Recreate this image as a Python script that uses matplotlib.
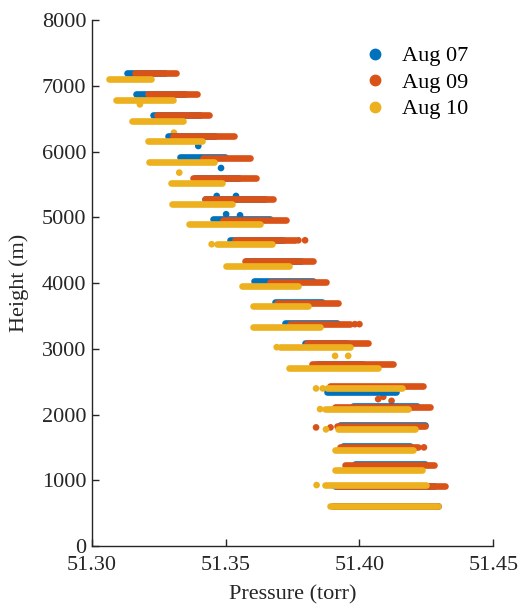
import matplotlib
matplotlib.use('Agg')
import matplotlib.pyplot as plt
from matplotlib.lines import Line2D

plt.rcParams['font.family'] = ['Liberation Serif', 'DejaVu Serif']

labels = ['Aug 07', 'Aug 09', 'Aug 10']
colors = ['#0072BD', '#D95319', '#EDB120']

# each series: one horizontal run of readings per height level (lo..hi torr)
h07 = [7195, 6875, 6555, 6235, 5910, 5600, 5280, 4970, 4660, 4340, 4025,
       3705, 3385, 3090, 2770, 2345, 2130, 1840, 1515, 1240, 915, 615]
lo07 = [51.3131, 51.3165, 51.3230, 51.3285, 51.3330, 51.3386, 51.3423, 51.3453,
        51.3516, 51.3575, 51.3607, 51.3684, 51.3722, 51.3797, 51.3840, 51.3878,
        51.3976, 51.3927, 51.3940, 51.3983, 51.3910, 51.3902]
hi07 = [51.3274, 51.3348, 51.3404, 51.3460, 51.3498, 51.3550, 51.3647, 51.3666,
        51.3715, 51.3780, 51.3827, 51.3860, 51.3916, 51.3952, 51.4013, 51.4135,
        51.4215, 51.4245, 51.4190, 51.4245, 51.4280, 51.4294]
xp07 = [51.3398, 51.3483, 51.3467, 51.3539, 51.3502, 51.3554]
yp07 = [6084, 5749, 5324, 5324, 5046, 5030]

h09 = [7190, 6870, 6550, 6230, 5905, 5597, 5274, 4962, 4650, 4331, 4017,
       3698, 3374, 3081, 2761, 2432, 2117, 1827, 1509, 1228, 912, 608]
lo09 = [51.3162, 51.3211, 51.3243, 51.3305, 51.3417, 51.3379, 51.3423, 51.3491,
        51.3535, 51.3572, 51.3666, 51.3691, 51.3740, 51.3803, 51.3822, 51.3890,
        51.3909, 51.3915, 51.3927, 51.3946, 51.3915, 51.3902]
hi09 = [51.3315, 51.3392, 51.3438, 51.3532, 51.3591, 51.3612, 51.3678, 51.3726,
        51.3760, 51.3827, 51.3874, 51.3921, 51.3965, 51.4033, 51.4126, 51.4238,
        51.4263, 51.4245, 51.4220, 51.4278, 51.4319, 51.4294]
xp09 = [51.3772, 51.3797, 51.3983, 51.4000, 51.4070, 51.4089, 51.4120,
        51.3838, 51.3892, 51.4241]
yp09 = [4650, 4650, 3374, 3374, 2234, 2269, 2208, 1804, 1804, 1500]

h10 = [7100, 6780, 6465, 6155, 5836, 5527, 5208, 4901, 4590, 4266, 3956,
       3647, 3336, 3024, 2705, 2397, 2082, 1774, 1459, 1152, 927, 612]
lo10 = [51.3066, 51.3091, 51.3149, 51.3211, 51.3215, 51.3296, 51.3299, 51.3364,
        51.3467, 51.3501, 51.3560, 51.3601, 51.3603, 51.3703, 51.3738, 51.3880,
        51.3871, 51.3921, 51.3909, 51.3909, 51.3871, 51.3890]
hi10 = [51.3220, 51.3305, 51.3342, 51.3413, 51.3458, 51.3485, 51.3523, 51.3628,
        51.3672, 51.3738, 51.3769, 51.3809, 51.3853, 51.3965, 51.4068, 51.4160,
        51.4182, 51.4207, 51.4201, 51.4232, 51.4248, 51.4294]
xp10 = [51.3180, 51.3307, 51.3327, 51.3448, 51.3909, 51.3958, 51.3691,
        51.3838, 51.3863, 51.3853, 51.3875, 51.3840]
yp10 = [6717, 6287, 5679, 4590, 2892, 2892, 3024, 2397, 2397, 2082, 1774, 927]

series = [(h07, lo07, hi07, xp07, yp07),
          (h09, lo09, hi09, xp09, yp09),
          (h10, lo10, hi10, xp10, yp10)]

fig = plt.figure(figsize=(5.22, 6.10), dpi=100)
ax = fig.add_axes([0.1757, 0.1049, 0.7693, 0.8623])

LW = 4.8
for (h, lo, hi, xp, yp), c in zip(series, colors):
    lc = ax.hlines(h, lo, hi, colors=c, linewidth=LW)
    lc.set_capstyle('round')
    ax.scatter(xp, yp, s=LW ** 2, color=c, edgecolors='none')

FS = 16
ax.set_xlim(51.30, 51.45)
ax.set_ylim(0, 8000)
ax.set_xticks([51.30, 51.35, 51.40, 51.45])
ax.set_xticklabels(['51.30', '51.35', '51.40', '51.45'])
ax.set_yticks(range(0, 8001, 1000))
ax.spines['top'].set_visible(False)
ax.spines['right'].set_visible(False)
for s in ['left', 'bottom']:
    ax.spines[s].set_color('#262626')
    ax.spines[s].set_linewidth(1.0)
ax.tick_params(direction='in', length=5, width=1.0, colors='#262626',
               labelsize=FS, labelcolor='#262626')
ax.tick_params(axis='x', pad=7.5)
ax.tick_params(axis='y', pad=4)
ax.set_xlabel('Pressure (torr)', fontsize=FS, color='#262626', labelpad=7)
ax.set_ylabel('Height (m)', fontsize=FS, color='#262626', labelpad=9)

handles = [Line2D([], [], marker='o', ls='none', color=c, markersize=7.5) for c in colors]
ax.legend(handles, labels, loc='upper left', bbox_to_anchor=(0.628, 0.989),
          frameon=False, fontsize=FS, handlelength=1.0, handletextpad=0.7,
          labelspacing=0.27)

fig.savefig('out.png', dpi=100)
